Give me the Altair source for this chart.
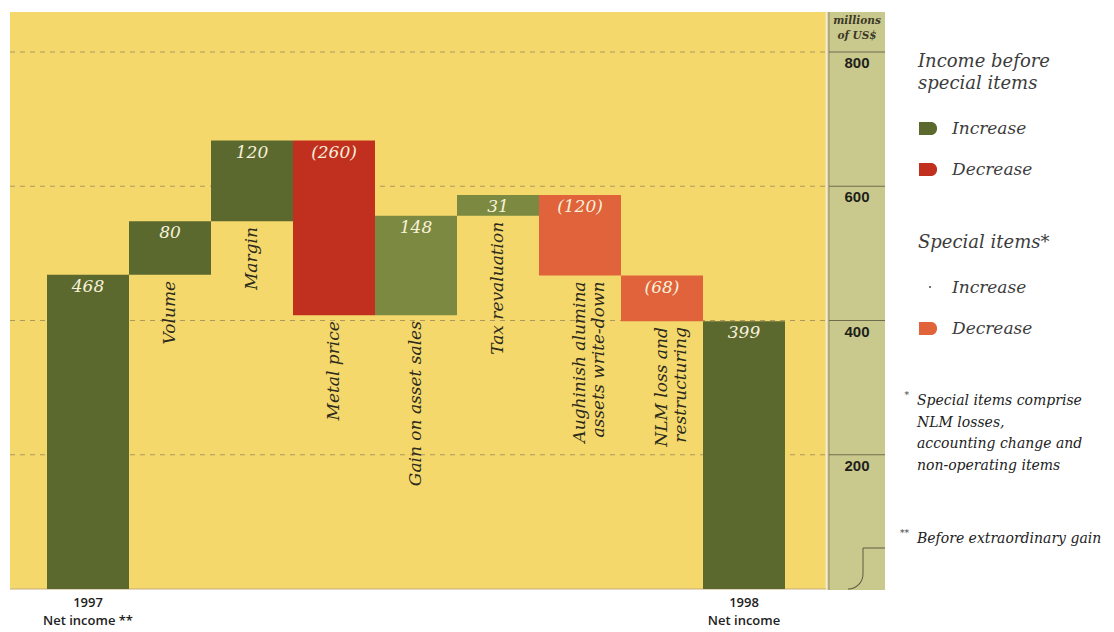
import math
import altair as alt
import pandas as pd

# Waterfall of net income, 1997 -> 1998 (millions of US$)
steps = [
    "1997\nNet income **",
    "Volume",
    "Margin",
    "Metal price",
    "Gain on asset sales",
    "Tax revaluation",
    "Aughinish alumina\nassets write-down",
    "NLM loss and\nrestructuring",
    "1998\nNet income",
]
changes = [468, 80, 120, -260, 148, 31, -120, -68, 399]
groups = ["total", "core", "core", "core", "special", "special", "special", "special", "total"]
value_text = ["468", "80", "120", "(260)", "148", "31", "(120)", "(68)", "399"]

y_ticks = [200, 400, 600, 800]

kind_domain = ["Net income", "Increase", "Decrease", "Special increase", "Special decrease"]
kind_colors = ["#5b692f", "#5b692f", "#c1301f", "#7b8a40", "#e0633b"]

legend_titles = ["Income before\nspecial items", "Special items*"]
legend_labels = ["Increase", "Decrease", "Increase", "Decrease"]
legend_kinds = ["Increase", "Decrease", "Special increase", "Special decrease"]
legend_groups = [0, 0, 1, 1]
footnote_marks = ["*", "**"]
footnotes = [
    "Special items comprise\nNLM losses,\naccounting change and\nnon-operating items",
    "Before extraordinary gain",
]

# ---- build the floating bars from the running total ----
rows = []
running = 0
for i, (step, chg, grp, txt) in enumerate(zip(steps, changes, groups, value_text)):
    if grp == "total":
        start, end = 0, chg
        kind = "Net income"
    else:
        start, end = running, running + chg
        if grp == "core":
            kind = "Increase" if chg > 0 else "Decrease"
        else:
            kind = "Special increase" if chg > 0 else "Special decrease"
    running = end
    rows.append(dict(step=step, x0=i, x1=i + 1, xm=i + 0.5, start=start, end=end,
                     low=min(start, end), high=max(start, end), kind=kind,
                     group=grp, value=txt))
bars = pd.DataFrame(rows)
ticks = pd.DataFrame({"v": y_ticks})
one = pd.DataFrame({"k": [0]})

x_scale = alt.Scale(domain=[0, len(steps)], range=[47, 785])
y_scale = alt.Scale(domain=[0, 800], range=[589, 52])
color_scale = alt.Scale(domain=kind_domain, range=kind_colors)

SERIF = "DejaVu Serif"

# ---- backgrounds ----
plot_bg = alt.Chart(one).mark_rect(color="#f4d86c").encode(
    x=alt.value(10), x2=alt.value(826), y=alt.value(12), y2=alt.value(589))
panel_bg = alt.Chart(one).mark_rect(color="#c9c98e").encode(
    x=alt.value(827), x2=alt.value(885), y=alt.value(12), y2=alt.value(590))
edge_light = alt.Chart(one).mark_rule(color="#f3ead0", strokeWidth=2).encode(
    x=alt.value(826.5), y=alt.value(12), y2=alt.value(590))
edge_dark = alt.Chart(one).mark_rule(color="#a09470", strokeWidth=1.2).encode(
    x=alt.value(829), y=alt.value(12), y2=alt.value(590))
base_line = alt.Chart(one).mark_rule(color="#c4ad78", strokeWidth=1).encode(
    x=alt.value(10), x2=alt.value(826), y=alt.value(589))

# corner flourish at the foot of the scale panel
corner_h = alt.Chart(one).mark_rule(color="#5f5a40", strokeWidth=1).encode(
    x=alt.value(863), x2=alt.value(885), y=alt.value(548))
corner_v = alt.Chart(one).mark_rule(color="#5f5a40", strokeWidth=1).encode(
    x=alt.value(863), y=alt.value(548), y2=alt.value(574))
corner_arc = alt.Chart(one).mark_arc(
    radius=15.5, radius2=14.5, theta=math.pi / 2, theta2=math.pi, color="#5f5a40"
).encode(x=alt.value(848), y=alt.value(574))

# ---- grid and scale ----
grid = alt.Chart(ticks).mark_rule(
    color="#9c8a5a", strokeDash=[5, 5], strokeWidth=1.2, opacity=0.8
).encode(y=alt.Y("v:Q", scale=y_scale, axis=None), x=alt.value(10), x2=alt.value(826))
panel_rules = alt.Chart(ticks).mark_rule(color="#6f6b4d", strokeWidth=1.2).encode(
    y=alt.Y("v:Q", scale=y_scale, axis=None), x=alt.value(829), x2=alt.value(885))
tick_labels = alt.Chart(ticks).mark_text(
    baseline="top", dy=4, font="Liberation Sans", fontWeight="bold", fontSize=15,
    color="#1f1f1a"
).encode(y=alt.Y("v:Q", scale=y_scale, axis=None), x=alt.value(857), text="v:Q")
unit_title = alt.Chart(pd.DataFrame({"t": ["millions\nof US$"]})).mark_text(
    baseline="top", lineBreak="\n", lineHeight=15, font=SERIF, fontStyle="italic",
    fontWeight="bold", fontSize=10.5, color="#3b3826"
).encode(x=alt.value(857), y=alt.value(16), text="t:N")

# ---- bars and labels ----
bar_marks = alt.Chart(bars).mark_rect().encode(
    x=alt.X("x0:Q", scale=x_scale, axis=None),
    x2="x1:Q",
    y=alt.Y("low:Q", scale=y_scale, axis=None),
    y2="high:Q",
    color=alt.Color("kind:N", scale=color_scale, legend=None),
)
value_labels = alt.Chart(bars).mark_text(
    baseline="top", dy=4, font=SERIF, fontStyle="italic", fontSize=17, color="#f7f1da"
).encode(x=alt.X("xm:Q", scale=x_scale), y=alt.Y("high:Q", scale=y_scale), text="value:N")
step_labels = alt.Chart(bars).transform_filter("datum.group != 'total'").mark_text(
    angle=270, align="right", baseline="middle", dx=-6, lineBreak="\n", lineHeight=19,
    font=SERIF, fontStyle="italic", fontSize=17, color="#2c2a1c"
).encode(x=alt.X("xm:Q", scale=x_scale), y=alt.Y("low:Q", scale=y_scale), text="step:N")
total_labels = alt.Chart(bars).transform_filter("datum.group == 'total'").mark_text(
    baseline="top", dy=8, lineBreak="\n", lineHeight=18, font="Open Sans",
    fontSize=13, fontWeight=600, color="#222222"
).encode(x=alt.X("xm:Q", scale=x_scale), y=alt.Y("start:Q", scale=y_scale), text="step:N")

# ---- legend on the right ----
title_base = [67, 248]
item_base = [134, 293]
item_step = 41
legend_df = pd.DataFrame({
    "label": legend_labels,
    "kind": legend_kinds,
    "py": [item_base[g] + item_step * (i % 2) for i, g in enumerate(legend_groups)],
})
legend_df["top"] = legend_df["py"] - 12
legend_df["bottom"] = legend_df["py"] + 1
titles_df = pd.DataFrame({"t": legend_titles, "py": title_base})

legend_titles_layer = alt.Chart(titles_df).mark_text(
    align="left", baseline="alphabetic", lineBreak="\n", lineHeight=22, font=SERIF,
    fontStyle="italic", fontSize=18, color="#3c3c3c"
).encode(x=alt.value(918), y=alt.Y("py:Q", scale=None), text="t:N")
legend_swatches = alt.Chart(legend_df).transform_filter(
    "datum.kind != 'Special increase'"
).mark_rect(cornerRadiusTopRight=6, cornerRadiusBottomRight=6).encode(
    x=alt.value(919), x2=alt.value(937),
    y=alt.Y("top:Q", scale=None), y2="bottom:Q",
    color=alt.Color("kind:N", scale=color_scale, legend=None),
)
legend_dot = alt.Chart(legend_df).transform_filter(
    "datum.kind == 'Special increase'"
).mark_circle(size=5, color="#555555", opacity=1).encode(
    x=alt.value(930), y=alt.Y("py:Q", scale=None), yOffset=alt.value(-6))
legend_text = alt.Chart(legend_df).mark_text(
    align="left", baseline="alphabetic", font=SERIF, fontStyle="italic", fontSize=17,
    color="#3c3c3c"
).encode(x=alt.value(952), y=alt.Y("py:Q", scale=None), text="label:N")

notes_df = pd.DataFrame({"mark": footnote_marks, "t": footnotes, "py": [405, 543]})
note_text = alt.Chart(notes_df).mark_text(
    align="left", baseline="alphabetic", lineBreak="\n", lineHeight=21.7, font=SERIF,
    fontStyle="italic", fontSize=14, color="#222222"
).encode(x=alt.value(917), y=alt.Y("py:Q", scale=None), text="t:N")
note_marks = alt.Chart(notes_df).mark_text(
    align="right", baseline="alphabetic", dy=-7, dx=-4, font=SERIF, fontSize=9,
    color="#444444"
).encode(x=alt.value(913), y=alt.Y("py:Q", scale=None), text="mark:N")

chart = alt.layer(
    plot_bg, panel_bg, edge_light, edge_dark, base_line,
    corner_h, corner_v, corner_arc,
    grid, panel_rules, tick_labels, unit_title,
    bar_marks, value_labels, step_labels, total_labels,
    legend_titles_layer, legend_swatches, legend_dot, legend_text,
    note_text, note_marks,
).properties(
    width=1114, height=632, padding=0,
    autosize=alt.AutoSizeParams(type="none"),
    background="white",
).configure_view(stroke=None)

chart.save("out.html", embed_options={"renderer": "svg", "actions": False})
